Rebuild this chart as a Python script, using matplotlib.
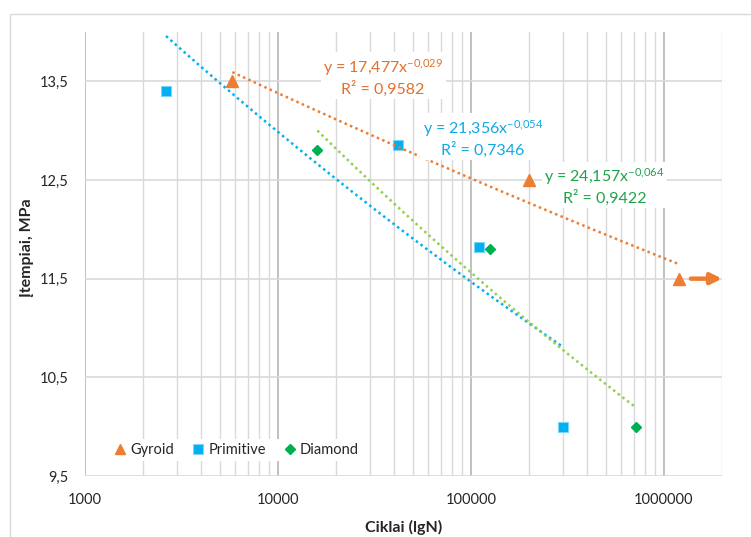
import numpy as np
import matplotlib
matplotlib.use('Agg')
import matplotlib.pyplot as plt
from matplotlib.ticker import FixedLocator, LogLocator, NullFormatter, FuncFormatter
from matplotlib.patches import Rectangle
from matplotlib.lines import Line2D

plt.rcParams['font.family'] = ['Lato', 'DejaVu Sans']
plt.rcParams['mathtext.fontset'] = 'custom'
plt.rcParams['mathtext.rm'] = 'Lato'
plt.rcParams['mathtext.it'] = 'Lato'
plt.rcParams['mathtext.bf'] = 'Lato:bold'

# data
series_names = ['Gyroid', 'Primitive', 'Diamond']
gyroid_cycles = [5800, 200000, 1200000]
gyroid_stress = [13.5, 12.5, 11.5]
primitive_cycles = [2630, 42000, 110000, 300000]
primitive_stress = [13.4, 12.85, 11.82, 10.0]
diamond_cycles = [16000, 125000, 720000]
diamond_stress = [12.8, 11.8, 10.0]

# Excel power trendlines y = a * x^b
trend_a = [17.477, 21.356, 24.157]
trend_b = [-0.029, -0.054, -0.064]
trend_r2 = [0.9582, 0.7346, 0.9422]

x_ticks = [1000, 10000, 100000, 1000000]
y_ticks = [9.5, 10.5, 11.5, 12.5, 13.5]

ORANGE = '#ED7D31'
BLUE = '#00B0F0'
GREEN = '#00B050'
LIGHT_GREEN = '#92D050'
TEXT = '#262626'

W, H = 751, 537
fig = plt.figure(figsize=(W / 100, H / 100), dpi=100)
ax = fig.add_axes([85 / W, 1 - 476 / H, (722 - 85) / W, (476 - 32) / H])

# outer chart-area border
fig.patches.append(Rectangle((10 / W, -0.05), 1.0, 1 - 14 / H + 0.05,
                             transform=fig.transFigure, fill=False,
                             ec='#d9d9d9', lw=1.0))

ax.set_xscale('log')
ax.set_xlim(1000, 2000000)
ax.set_ylim(9.5, 14.0)
ax.xaxis.set_major_locator(FixedLocator(x_ticks))
ax.xaxis.set_major_formatter(FuncFormatter(lambda v, p: f'{v:.0f}'))
ax.xaxis.set_minor_locator(LogLocator(base=10, subs=np.arange(2, 10), numticks=100))
ax.xaxis.set_minor_formatter(NullFormatter())
ax.yaxis.set_major_locator(FixedLocator(y_ticks))
ax.yaxis.set_major_formatter(FuncFormatter(lambda v, p: f'{v:.1f}'.replace('.', ',')))
ax.tick_params(which='both', length=0, labelsize=10.5, labelcolor=TEXT)
ax.tick_params(axis='x', pad=12)
ax.tick_params(axis='y', pad=12)
for s in ax.spines.values():
    s.set_visible(False)
ax.grid(which='major', axis='x', color='#b5b5b5', lw=1.2)
ax.grid(which='minor', axis='x', color='#d9d9d9', lw=1.0)
ax.grid(which='major', axis='y', color='#d9d9d9', lw=1.2)
ax.set_axisbelow(True)

# markers
ax.plot(gyroid_cycles, gyroid_stress, ls='none', marker='^', ms=8,
        color=ORANGE, zorder=3)
ax.plot(primitive_cycles, primitive_stress, ls='none', marker='s', ms=7,
        mfc=BLUE, mec='#7fd3f7', mew=0.8, zorder=3)
ax.plot(diamond_cycles, diamond_stress, ls='none', marker='D', ms=5,
        color=GREEN, zorder=3)

# runout arrow on last gyroid point
ax.annotate('', xy=(ax.get_xlim()[1], gyroid_stress[-1]),
            xytext=(gyroid_cycles[-1] * 1.15, gyroid_stress[-1]),
            arrowprops=dict(arrowstyle='-|>', color=ORANGE, lw=3.2,
                            mutation_scale=16, shrinkA=0, shrinkB=0),
            annotation_clip=False, zorder=4)

# trendlines
all_cycles = [gyroid_cycles, primitive_cycles, diamond_cycles]
line_colors = [ORANGE, BLUE, LIGHT_GREEN]
for cyc, a, b, col in zip(all_cycles, trend_a, trend_b, line_colors):
    xs = np.geomspace(min(cyc), max(cyc), 200)
    ax.plot(xs, a * xs ** b, color=col, lw=1.8, ls=(0, (1, 1.35)), zorder=4)

# trendline labels
label_pos = [(0.468, 0.899), (0.625, 0.762), (0.816, 0.653)]
label_colors = ['#E3702B', '#14A7E3', '#1FA34A']
for a, b, r2, pos, col in zip(trend_a, trend_b, trend_r2, label_pos, label_colors):
    a_txt = f'{a:.3f}'.replace('.', ',')
    b_txt = f'{b:.3f}'.replace('.', '{,}')
    r_txt = f'{r2:.4f}'.replace('.', ',')
    txt = f'y = {a_txt}x$^{{{b_txt}}}$\nR² = {r_txt}'
    ax.text(pos[0], pos[1], txt, transform=ax.transAxes, ha='center', va='center',
            fontsize=11.5, color=col, linespacing=1.2, zorder=5,
            bbox=dict(boxstyle='square,pad=0.15', fc='white', ec='none'))

ax.set_xlabel('Ciklai (lgN)', fontsize=11.5, fontweight='bold', color=TEXT)
ax.xaxis.label.set_va('center')
ax.xaxis.set_label_coords(0.5, (476 - 527) / 444)
ax.set_ylabel('Įtempiai, MPa', fontsize=11.5, fontweight='bold', color=TEXT)
ax.yaxis.label.set_va('center')
ax.yaxis.set_label_coords((27 - 85) / 637, (476 - 248) / 444)

handles = [
    Line2D([], [], ls='none', marker='^', ms=6.5, color=ORANGE),
    Line2D([], [], ls='none', marker='s', ms=7, mfc=BLUE, mec='#7fd3f7', mew=0.8),
    Line2D([], [], ls='none', marker='D', ms=5, color=GREEN),
]
leg = ax.legend(handles, series_names, loc='center left',
                bbox_to_anchor=(0.04, (476 - 450) / 444), ncol=3, frameon=True,
                fancybox=False, facecolor='white', edgecolor='none', framealpha=1,
                fontsize=10.5, handlelength=0.7, handletextpad=0.35,
                columnspacing=1.3, borderpad=0.3, borderaxespad=0)
for t in leg.get_texts():
    t.set_color(TEXT)

fig.savefig('out.png', dpi=100)
